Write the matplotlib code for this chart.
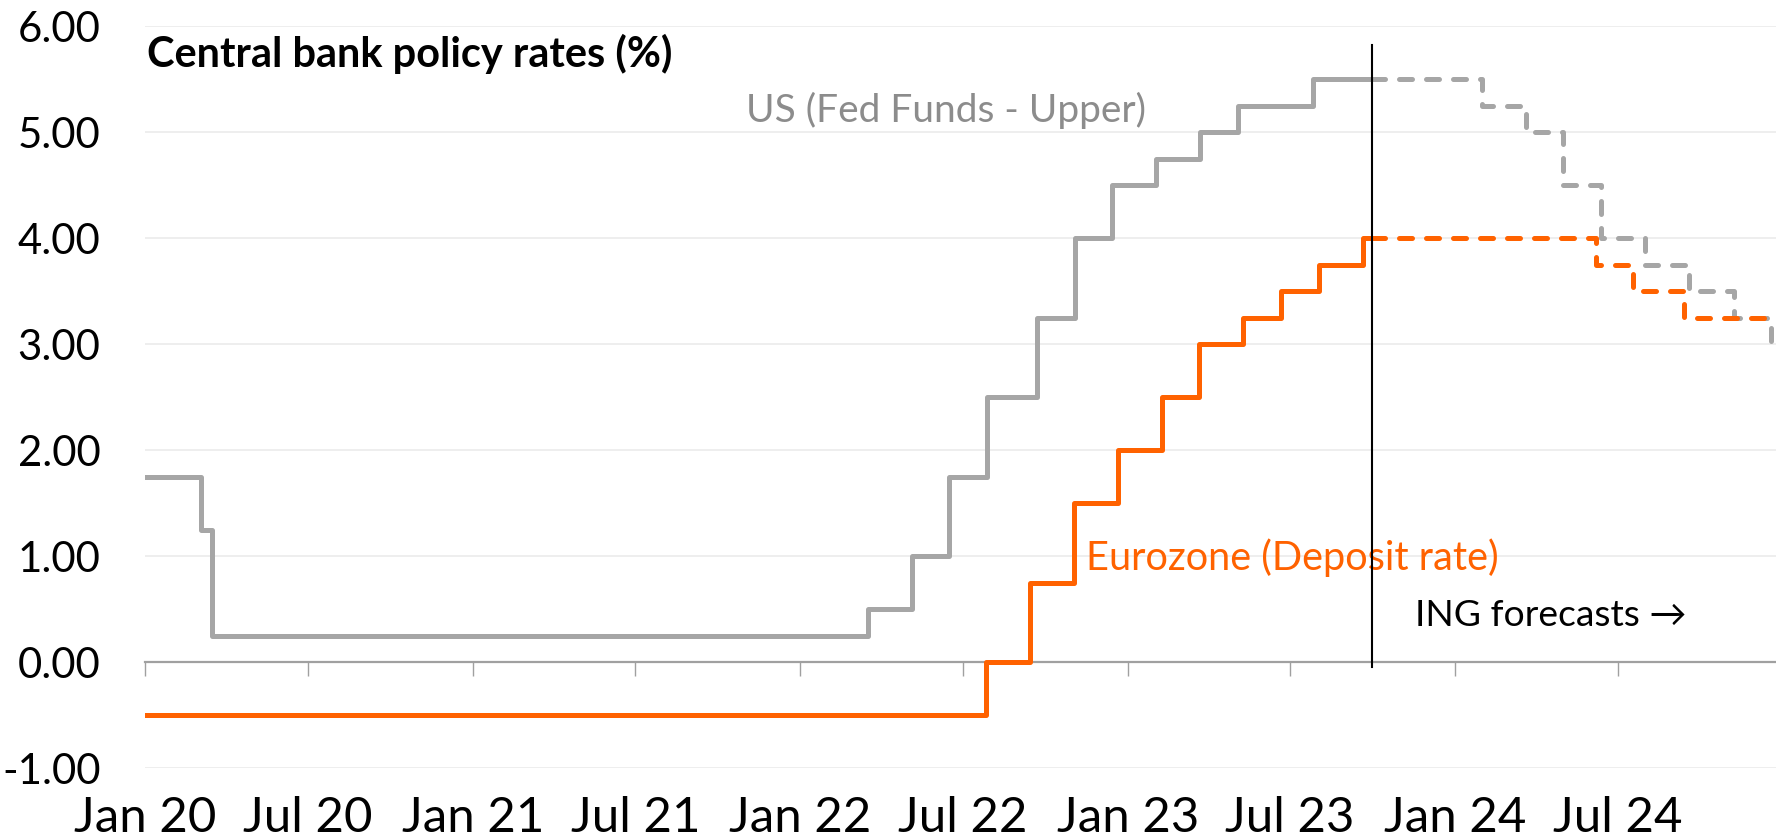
import matplotlib
matplotlib.use("Agg")
import matplotlib.pyplot as plt
import matplotlib.dates as mdates
import numpy as np

plt.rcParams['font.family'] = ['Lato', 'DejaVu Sans']

# ---- data ----
us_dates = ["2020-01-01", "2020-03-04", "2020-03-16", "2022-03-17", "2022-05-05",
            "2022-06-16", "2022-07-28", "2022-09-22", "2022-11-03", "2022-12-15",
            "2023-02-02", "2023-03-23", "2023-05-04", "2023-07-27", "2023-09-30"]
us_rates = [1.75, 1.25, 0.25, 0.50, 1.00, 1.75, 2.50, 3.25, 4.00, 4.50,
            4.75, 5.00, 5.25, 5.50, 5.50]

us_fc_dates = ["2023-09-30", "2024-01-31", "2024-03-20", "2024-05-01", "2024-06-12",
               "2024-07-31", "2024-09-18", "2024-11-07", "2024-12-18", "2024-12-24"]
us_fc_rates = [5.50, 5.25, 5.00, 4.50, 4.00, 3.75, 3.50, 3.25, 3.00, 3.00]

ez_dates = ["2020-01-01", "2022-07-27", "2022-09-14", "2022-11-02", "2022-12-21",
            "2023-02-08", "2023-03-22", "2023-05-10", "2023-06-21", "2023-08-02",
            "2023-09-20", "2023-09-30"]
ez_rates = [-0.50, 0.00, 0.75, 1.50, 2.00, 2.50, 3.00, 3.25, 3.50, 3.75, 4.00, 4.00]

ez_fc_dates = ["2023-09-30", "2024-06-06", "2024-07-18", "2024-09-12", "2024-12-24"]
ez_fc_rates = [4.00, 3.75, 3.50, 3.25, 3.25]

forecast_start = "2023-09-30"
x_start, x_end = "2020-01-01", "2024-12-24"

tick_dates = ["2020-01-01", "2020-07-01", "2021-01-01", "2021-07-01", "2022-01-01",
              "2022-07-01", "2023-01-01", "2023-07-01", "2024-01-01", "2024-07-01"]
tick_labels = ["Jan 20", "Jul 20", "Jan 21", "Jul 21", "Jan 22",
               "Jul 22", "Jan 23", "Jul 23", "Jan 24", "Jul 24"]
y_ticks = [-1, 0, 1, 2, 3, 4, 5, 6]

title = "Central bank policy rates (%)"
us_label = "US (Fed Funds - Upper)"
ez_label = "Eurozone (Deposit rate)"
fc_label = "ING forecasts \u2192"

GREY = "#A6A6A6"
ORANGE = "#FF6200"

def d(lst):
    return mdates.datestr2num(lst)

fig = plt.figure(figsize=(17.76, 8.4), dpi=100)
ax = fig.add_axes([145/1776, 1 - 768/840, 1 - 145/1776, (768 - 26)/840])

# grid
ax.set_ylim(-1, 6)
ax.set_xlim(d([x_start])[0], d([x_end])[0])
ax.set_yticks(y_ticks)
ax.set_yticklabels([f"{v:.2f}" for v in y_ticks])
ax.yaxis.grid(True, color="#EBEBEB", lw=1.2, zorder=0)
ax.set_axisbelow(True)

for s in ["top", "right", "left"]:
    ax.spines[s].set_visible(False)
ax.spines["bottom"].set_position(("data", 0))
ax.spines["bottom"].set_color("#A0A0A0")
ax.spines["bottom"].set_linewidth(1.6)
ax.spines["bottom"].set_zorder(2)

ax.set_xticks(d(tick_dates))
ax.tick_params(axis="x", direction="out", length=10, width=1.0, color="#A0A0A0",
               labelbottom=False)
ax.tick_params(axis="y", length=0, pad=32, labelsize=26, labelcolor="black")

sec = ax.secondary_xaxis("bottom")
sec.set_xticks(d(tick_dates))
sec.set_xticklabels(tick_labels)
sec.spines["bottom"].set_visible(False)
sec.tick_params(axis="x", length=0, pad=20, labelsize=26)

# lines
lw = 3.6
dash = (2.6, 2.8)
ax.step(d(us_dates), us_rates, where="post", color=GREY, lw=lw, zorder=3)
ax.step(d(us_fc_dates), us_fc_rates, where="post", color=GREY, lw=lw, zorder=3,
        dashes=dash, dash_capstyle="round")
ax.step(d(ez_dates), ez_rates, where="post", color=ORANGE, lw=lw, zorder=4)
ax.step(d(ez_fc_dates), ez_fc_rates, where="post", color=ORANGE, lw=lw, zorder=4,
        dashes=dash, dash_capstyle="round")

fc_x = d([forecast_start])[0]
ax.plot([fc_x, fc_x], [-0.05, 5.82], color="black", lw=1.5, zorder=5)

# texts
t_title = ax.text(d(["2020-01-03"])[0], 5.74, title, fontsize=24, fontweight="bold",
                  ha="left", va="center", color="black")
t_us = ax.text(d(["2021-11-01"])[0], 5.20, us_label, fontsize=24, color="#8C8C8C",
               ha="left", va="center")
t_ez = ax.text(d(["2022-11-15"])[0], 0.98, ez_label, fontsize=24, color=ORANGE,
               ha="left", va="center")
t_fc = ax.text(d(["2023-11-17"])[0], 0.44, fc_label, fontsize=24, color="black",
               ha="left", va="center")

fig.canvas.draw()
r = fig.canvas.get_renderer()

def fit(t, w):
    bb = t.get_window_extent(r)
    t.set_fontsize(t.get_fontsize() * w / bb.width)

fit(t_title, 527)
fit(t_us, 400)
fit(t_ez, 415)
fit(t_fc, 272)

xl = sec.get_xticklabels()[0]
w0 = xl.get_window_extent(r).width
sec.tick_params(axis="x", labelsize=26 * 142 / w0)
yl = ax.get_yticklabels()[-1]
w1 = yl.get_window_extent(r).width
ax.tick_params(axis="y", labelsize=26 * 83 / w1)

fig.savefig("out.png", dpi=100, facecolor="white")
